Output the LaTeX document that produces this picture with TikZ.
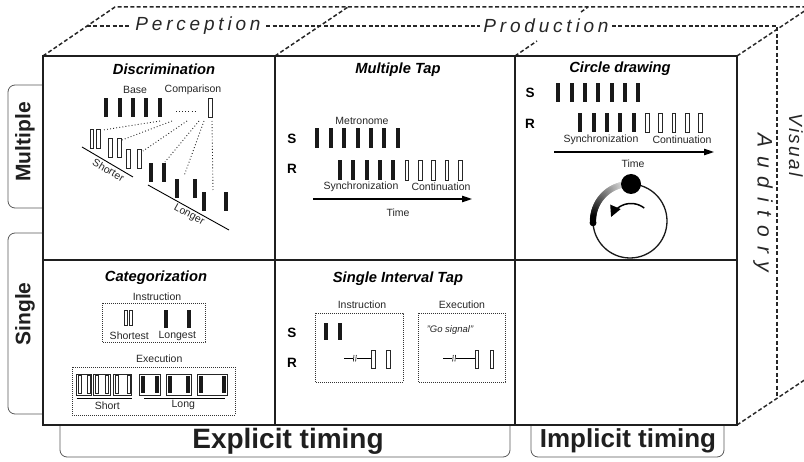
\documentclass[tikz,border=0pt]{standalone}
\usepackage{fontspec}
\setmainfont{Liberation Sans}
\newfontfamily\spcP[LetterSpace=20]{Liberation Sans}
\newfontfamily\spcA[LetterSpace=42]{Liberation Sans}
\newfontfamily\spcV[LetterSpace=12]{Liberation Sans}
\usetikzlibrary{arrows.meta}
\tikzset{
 gridline/.style={line width=1.9pt, draw=black!88},
 dash3d/.style={line width=1.5pt, draw=black!85, dash pattern=on 4pt off 2.4pt},
 tabline/.style={line width=0.8pt, draw=black!65, rounded corners=7pt},
 bbar/.style={fill=black!90},
 obar/.style={draw=black!85, fill=white, line width=0.6pt},
 fan/.style={draw=black!85, line width=0.9pt, dash pattern=on 0.9pt off 2.2pt},
 dbox/.style={draw=black!80, line width=0.8pt, dash pattern=on 0.8pt off 1.2pt},
 lbl/.style={font=\fontsize{10.5}{12}\selectfont, text=black!85, inner sep=0pt},
 ttl/.style={font=\fontsize{14.7}{17}\selectfont\bfseries\itshape, inner sep=0pt},
 srl/.style={font=\fontsize{13.5}{15}\selectfont\bfseries, inner sep=0pt},
 side/.style={font=\fontsize{21}{24}\selectfont\bfseries, inner sep=0pt, text=black!88},
 persp/.style={font=\spcP\itshape\fontsize{19}{21}\selectfont, text=black!85},
 timearrow/.style={line width=1.1pt, -{Triangle[length=10pt,width=6.5pt]}},
 frm/.style={draw=black!85, line width=0.7pt},
}
\begin{document}
\begin{tikzpicture}[x=1pt,y=-1pt]
\useasboundingbox (0,0) rectangle (804,462);
\clip (0,0) rectangle (804,462);

% side tabs
\draw[tabline] (43,85) -- (8,85) -- (8,208) -- (43,208);
\node[side, rotate=90] (mult) at (25,142) {Multiple};
\draw[tabline] (43,233) -- (8,233) -- (8,414) -- (43,414);
\node[side, rotate=90] (sing) at (25,314) {Single};
\draw[tabline] (60,425) -- (60,457) -- (510,457) -- (510,425);
\node[font=\fontsize{28}{30}\selectfont\bfseries, inner sep=0pt, text=black!88] (expl) at (288,441) {Explicit timing};
\draw[tabline] (531,425) -- (531,457) -- (724,457) -- (724,425);
\node[font=\fontsize{26}{28}\selectfont\bfseries, inner sep=0pt, text=black!88] (impl) at (628,441) {Implicit timing};

% 3D dashed box
\draw[dash3d] (43,56) -- (115,7) -- (812,7);
\draw[dash3d] (275,56) -- (348,7);
\draw[dash3d] (515,56) -- (537,41);
\draw[dash3d] (581,12) -- (588,7);
\draw[dash3d] (737,56) -- (812,6);
\draw[dash3d] (87,26) -- (777,26) -- (777,398);
\draw[dash3d] (737,425) -- (812,375);
\node[persp, fill=white, inner xsep=3pt, inner ysep=1pt] (perc) at (198,26) {Perception};
\node[persp, fill=white, inner xsep=3pt, inner ysep=1pt] (prod) at (546,26) {Production};
\node[font=\spcA\itshape\fontsize{21}{23}\selectfont, text=black!85, rotate=-90, inner sep=0pt] (aud) at (763,203) {Auditory};
\node[font=\spcV\itshape\fontsize{19}{21}\selectfont, text=black!85, rotate=-90, inner sep=0pt] (vis) at (796,145) {Visual};

% grid
\draw[gridline] (43,56) rectangle (737,425);
\draw[gridline] (275,56) -- (275,425);
\draw[gridline] (515,56) -- (515,425);
\draw[gridline] (43,260) -- (737,260);

% ---------- Discrimination
\node[ttl] (tdisc) at (164,69) {Discrimination};
\node[lbl] (base) at (135,90) {Base};
\node[lbl] (comp) at (193,90) {Comparison};
\foreach \x in {106.3,119.7,133,146.3,160} \fill[bbar] (\x-2,98) rectangle (\x+2,117);
\draw[fan] (176,111) -- (196,111);
\draw[obar] (208.5,98) rectangle (212.5,117);
\draw[fan] (160,121) -- (103,130);
\draw[fan] (172,121) -- (122,140);
\draw[fan] (187,121) -- (143,151);
\draw[fan] (199,121) -- (165,162);
\draw[fan] (204,121) -- (184,176);
\draw[fan] (212,121) -- (213,190);
\foreach \x/\y in {91.7/129,98.5/129,110/138,119/138,128/149,139/149}
  \draw[obar] (\x-1.8,\y) rectangle (\x+1.8,\y+19);
\foreach \x/\y in {151/163,164/163,177/179,195/179,204/192,226/192}
  \fill[bbar] (\x-2,\y) rectangle (\x+2,\y+19);
\draw[line width=0.9pt] (82,147) -- (133,177);
\node[lbl, rotate=-30] (shorter) at (108.5,170) {Shorter};
\draw[line width=0.9pt] (148,185) -- (229,230);
\node[lbl, rotate=-29] (longer) at (189,215) {Longer};

% ---------- Multiple Tap
\node[ttl] (tmt) at (398,70) {Multiple Tap};
\node[lbl] (metro) at (362,121) {Metronome};
\node[srl] (s1) at (292,139) {S};
\node[srl] (r1) at (292,169) {R};
\foreach \i in {0,...,6} \fill[bbar] ({317.3+13.4*\i-2},128) rectangle ({317.3+13.4*\i+2},148);
\foreach \i in {0,...,4} \fill[bbar] ({340+13.35*\i-2},160) rectangle ({340+13.35*\i+2},180);
\foreach \i in {5,...,9} \draw[obar] ({340+13.35*\i-1.8},160) rectangle ({340+13.35*\i+1.8},180);
\node[lbl] (sync1) at (361,187) {Synchronization};
\node[lbl] (cont1) at (441,187) {Continuation};
\coordinate (ta1) at (313,199);
\coordinate (tb1) at (472,199);
\draw[timearrow] (ta1) -- (tb1);
\node[lbl] (time1) at (398,213) {Time};

% ---------- Circle drawing
\node[ttl] (tcd) at (620,69) {Circle drawing};
\node[srl] (s2) at (530,93) {S};
\node[srl] (r2) at (530,124) {R};
\foreach \i in {0,...,6} \fill[bbar] ({558.3+13.35*\i-2},83) rectangle ({558.3+13.35*\i+2},102);
\foreach \i in {0,...,4} \fill[bbar] ({580.3+13.35*\i-2},113) rectangle ({580.3+13.35*\i+2},132);
\foreach \i in {5,...,9} \draw[obar] ({580.3+13.35*\i-1.8},113) rectangle ({580.3+13.35*\i+1.8},132);
\node[lbl] (sync2) at (601,140) {Synchronization};
\node[lbl] (cont2) at (682,140) {Continuation};
\coordinate (ta2) at (554,152);
\coordinate (tb2) at (714,152);
\draw[timearrow] (ta2) -- (tb2);
\node[lbl] (time2) at (633,163.5) {Time};
\draw[line width=1.3pt, black!90] (630,221) circle (37pt);
\foreach \a in {100,102,...,182} {
  \pgfmathtruncatemacro\g{min(100,10+(\a-100)*1.2)}
  \fill[black!\g] ({630+37*cos(\a)},{221-37*sin(\a)}) circle (3.2pt);
}
\fill[black] ({630+37*cos(183)},{221-37*sin(183)}) circle (3.4pt);
\fill[black] (631,184) circle (10pt);
\draw[line width=1.5pt, -{Triangle[length=11pt,width=11pt]}] plot[smooth, domain=52:158, samples=25] ({631+21.5*cos(\x)},{225-21.5*sin(\x)});

% ---------- Categorization
\node[ttl] (tcat) at (156,278) {Categorization};
\node[lbl] (instr1) at (157,297) {Instruction};
\draw[dbox] (102,303) rectangle (205,342);
\draw[obar] (124,310) rectangle (126.9,325);
\draw[obar] (129.4,310) rectangle (132.3,325);
\fill[bbar] (164.3,310) rectangle (168.3,328);
\fill[bbar] (186.7,310) rectangle (190.7,328);
\node[lbl] (shortest) at (129.3,336) {Shortest};
\node[lbl] (longest) at (177.3,336) {Longest};
\node[lbl] (exec1) at (159.3,359) {Execution};
\draw[dbox] (72,367) rectangle (235,415);
\foreach \a/\b in {76.7/91.7, 93.3/110, 113.3/131.7} {
  \draw[frm] (\a,374) rectangle (\b,395);
  \draw[obar] (\a+1.6,375.6) rectangle (\a+4.6,393.4);
  \draw[obar] (\b-4.6,375.6) rectangle (\b-1.6,393.4);
}
\foreach \a/\b in {139.3/160.7, 166/191.7, 197.3/227.3} {
  \draw[frm] (\a,374) rectangle (\b,395);
  \fill[bbar] (\a+1.6,375.6) rectangle (\a+5.6,393.4);
  \fill[bbar] (\b-5.6,375.6) rectangle (\b-1.6,393.4);
}
\draw[line width=0.8pt] (76.7,398.3) -- (131.7,398.3);
\draw[line width=0.8pt] (144,398.3) -- (225,398.3);
\node[lbl] (shortl) at (107.3,405.5) {Short};
\node[lbl] (longl) at (183.3,404.5) {Long};

% ---------- Single Interval Tap
\node[ttl] (tsit) at (398,279) {Single Interval Tap};
\node[lbl] (instr2) at (362,305) {Instruction};
\node[lbl] (exec2) at (462,305) {Execution};
\draw[dbox] (315,313) rectangle (403,382);
\draw[dbox] (418,313) rectangle (505,382);
\node[srl] (s3) at (292,333) {S};
\node[srl] (r3) at (292,363) {R};
\fill[bbar] (324,323) rectangle (328.3,340);
\fill[bbar] (337.7,323) rectangle (342,340);
\node[font=\fontsize{9.5}{11}\selectfont\itshape, inner sep=0pt, text=black!85] (gosig) at (450,330) {"Go signal"};
\draw[line width=0.8pt] (344,358.3) -- (353,358.3);
\draw[line width=0.6pt] (354,355) -- (353.3,361.5);
\draw[line width=0.6pt] (356.3,355) -- (355.6,361.5);
\draw[line width=0.8pt] (357,358.3) -- (371.7,358.3);
\draw[obar] (371.7,350) rectangle (375.3,368.3);
\draw[obar] (386.7,350) rectangle (390.3,368.3);
\draw[line width=0.8pt] (443.3,358.3) -- (452.3,358.3);
\draw[line width=0.6pt] (453.3,355) -- (452.6,361.5);
\draw[line width=0.6pt] (455.6,355) -- (454.9,361.5);
\draw[line width=0.8pt] (456.3,358.3) -- (475,358.3);
\draw[obar] (475,350) rectangle (478.6,368.3);
\draw[obar] (490,350) rectangle (493.6,368.3);
\end{tikzpicture}
\end{document}
